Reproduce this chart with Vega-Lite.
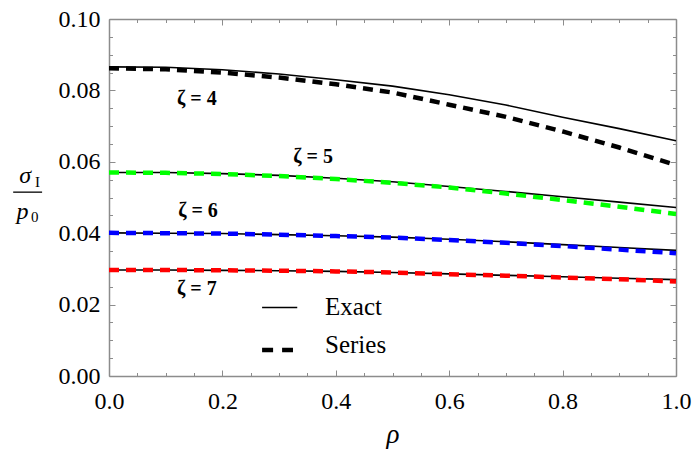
{
  "$schema": "https://vega.github.io/schema/vega-lite/v6.json",
  "width": 567,
  "height": 357,
  "autosize": {"type": "none"},
  "padding": {"left": 109, "top": 19, "right": 16, "bottom": 79},
  "background": "white",
  "config": {"view": {"stroke": null}, "font": "Liberation Serif"},
  "datasets": {
    "curves": [
      {"rho": 0.0, "v": 0.0866, "zeta": "4", "type": "Exact"},
      {"rho": 0.1, "v": 0.0865, "zeta": "4", "type": "Exact"},
      {"rho": 0.2, "v": 0.0858, "zeta": "4", "type": "Exact"},
      {"rho": 0.3, "v": 0.0846, "zeta": "4", "type": "Exact"},
      {"rho": 0.4, "v": 0.0830, "zeta": "4", "type": "Exact"},
      {"rho": 0.5, "v": 0.0812, "zeta": "4", "type": "Exact"},
      {"rho": 0.6, "v": 0.0788, "zeta": "4", "type": "Exact"},
      {"rho": 0.7, "v": 0.0759, "zeta": "4", "type": "Exact"},
      {"rho": 0.8, "v": 0.0725, "zeta": "4", "type": "Exact"},
      {"rho": 0.9, "v": 0.0693, "zeta": "4", "type": "Exact"},
      {"rho": 1.0, "v": 0.0659, "zeta": "4", "type": "Exact"},
      {"rho": 0.0, "v": 0.0862, "zeta": "4", "type": "Series"},
      {"rho": 0.1, "v": 0.0859, "zeta": "4", "type": "Series"},
      {"rho": 0.2, "v": 0.0850, "zeta": "4", "type": "Series"},
      {"rho": 0.3, "v": 0.0836, "zeta": "4", "type": "Series"},
      {"rho": 0.4, "v": 0.0817, "zeta": "4", "type": "Series"},
      {"rho": 0.5, "v": 0.0794, "zeta": "4", "type": "Series"},
      {"rho": 0.6, "v": 0.0760, "zeta": "4", "type": "Series"},
      {"rho": 0.7, "v": 0.0726, "zeta": "4", "type": "Series"},
      {"rho": 0.8, "v": 0.0685, "zeta": "4", "type": "Series"},
      {"rho": 0.9, "v": 0.0640, "zeta": "4", "type": "Series"},
      {"rho": 1.0, "v": 0.0591, "zeta": "4", "type": "Series"},
      {"rho": 0.0, "v": 0.0570, "zeta": "5", "type": "Exact"},
      {"rho": 0.1, "v": 0.0570, "zeta": "5", "type": "Exact"},
      {"rho": 0.2, "v": 0.0567, "zeta": "5", "type": "Exact"},
      {"rho": 0.3, "v": 0.0562, "zeta": "5", "type": "Exact"},
      {"rho": 0.4, "v": 0.0554, "zeta": "5", "type": "Exact"},
      {"rho": 0.5, "v": 0.0544, "zeta": "5", "type": "Exact"},
      {"rho": 0.6, "v": 0.0531, "zeta": "5", "type": "Exact"},
      {"rho": 0.7, "v": 0.0517, "zeta": "5", "type": "Exact"},
      {"rho": 0.8, "v": 0.0502, "zeta": "5", "type": "Exact"},
      {"rho": 0.9, "v": 0.0487, "zeta": "5", "type": "Exact"},
      {"rho": 1.0, "v": 0.0472, "zeta": "5", "type": "Exact"},
      {"rho": 0.0, "v": 0.0570, "zeta": "5", "type": "Series"},
      {"rho": 0.1, "v": 0.0569, "zeta": "5", "type": "Series"},
      {"rho": 0.2, "v": 0.0566, "zeta": "5", "type": "Series"},
      {"rho": 0.3, "v": 0.0560, "zeta": "5", "type": "Series"},
      {"rho": 0.4, "v": 0.0552, "zeta": "5", "type": "Series"},
      {"rho": 0.5, "v": 0.0541, "zeta": "5", "type": "Series"},
      {"rho": 0.6, "v": 0.0528, "zeta": "5", "type": "Series"},
      {"rho": 0.7, "v": 0.0511, "zeta": "5", "type": "Series"},
      {"rho": 0.8, "v": 0.0493, "zeta": "5", "type": "Series"},
      {"rho": 0.9, "v": 0.0474, "zeta": "5", "type": "Series"},
      {"rho": 1.0, "v": 0.0454, "zeta": "5", "type": "Series"},
      {"rho": 0.0, "v": 0.0401, "zeta": "6", "type": "Exact"},
      {"rho": 0.1, "v": 0.0400, "zeta": "6", "type": "Exact"},
      {"rho": 0.2, "v": 0.0399, "zeta": "6", "type": "Exact"},
      {"rho": 0.3, "v": 0.0396, "zeta": "6", "type": "Exact"},
      {"rho": 0.4, "v": 0.0393, "zeta": "6", "type": "Exact"},
      {"rho": 0.5, "v": 0.0389, "zeta": "6", "type": "Exact"},
      {"rho": 0.6, "v": 0.0383, "zeta": "6", "type": "Exact"},
      {"rho": 0.7, "v": 0.0376, "zeta": "6", "type": "Exact"},
      {"rho": 0.8, "v": 0.0368, "zeta": "6", "type": "Exact"},
      {"rho": 0.9, "v": 0.0360, "zeta": "6", "type": "Exact"},
      {"rho": 1.0, "v": 0.0352, "zeta": "6", "type": "Exact"},
      {"rho": 0.0, "v": 0.0401, "zeta": "6", "type": "Series"},
      {"rho": 0.1, "v": 0.0400, "zeta": "6", "type": "Series"},
      {"rho": 0.2, "v": 0.0399, "zeta": "6", "type": "Series"},
      {"rho": 0.3, "v": 0.0396, "zeta": "6", "type": "Series"},
      {"rho": 0.4, "v": 0.0392, "zeta": "6", "type": "Series"},
      {"rho": 0.5, "v": 0.0388, "zeta": "6", "type": "Series"},
      {"rho": 0.6, "v": 0.0381, "zeta": "6", "type": "Series"},
      {"rho": 0.7, "v": 0.0373, "zeta": "6", "type": "Series"},
      {"rho": 0.8, "v": 0.0364, "zeta": "6", "type": "Series"},
      {"rho": 0.9, "v": 0.0354, "zeta": "6", "type": "Series"},
      {"rho": 1.0, "v": 0.0344, "zeta": "6", "type": "Series"},
      {"rho": 0.0, "v": 0.0297, "zeta": "7", "type": "Exact"},
      {"rho": 0.1, "v": 0.0297, "zeta": "7", "type": "Exact"},
      {"rho": 0.2, "v": 0.0296, "zeta": "7", "type": "Exact"},
      {"rho": 0.3, "v": 0.0295, "zeta": "7", "type": "Exact"},
      {"rho": 0.4, "v": 0.0293, "zeta": "7", "type": "Exact"},
      {"rho": 0.5, "v": 0.0290, "zeta": "7", "type": "Exact"},
      {"rho": 0.6, "v": 0.0286, "zeta": "7", "type": "Exact"},
      {"rho": 0.7, "v": 0.0282, "zeta": "7", "type": "Exact"},
      {"rho": 0.8, "v": 0.0278, "zeta": "7", "type": "Exact"},
      {"rho": 0.9, "v": 0.0274, "zeta": "7", "type": "Exact"},
      {"rho": 1.0, "v": 0.0270, "zeta": "7", "type": "Exact"},
      {"rho": 0.0, "v": 0.0297, "zeta": "7", "type": "Series"},
      {"rho": 0.1, "v": 0.0297, "zeta": "7", "type": "Series"},
      {"rho": 0.2, "v": 0.0296, "zeta": "7", "type": "Series"},
      {"rho": 0.3, "v": 0.0295, "zeta": "7", "type": "Series"},
      {"rho": 0.4, "v": 0.0293, "zeta": "7", "type": "Series"},
      {"rho": 0.5, "v": 0.0290, "zeta": "7", "type": "Series"},
      {"rho": 0.6, "v": 0.0285, "zeta": "7", "type": "Series"},
      {"rho": 0.7, "v": 0.0281, "zeta": "7", "type": "Series"},
      {"rho": 0.8, "v": 0.0276, "zeta": "7", "type": "Series"},
      {"rho": 0.9, "v": 0.0271, "zeta": "7", "type": "Series"},
      {"rho": 1.0, "v": 0.0265, "zeta": "7", "type": "Series"}
    ],
    "zlabels": [
      {"t": "ζ = 4", "rho": 0.155, "v": 0.0776},
      {"t": "ζ = 5", "rho": 0.360, "v": 0.0613},
      {"t": "ζ = 6", "rho": 0.157, "v": 0.0462},
      {"t": "ζ = 7", "rho": 0.155, "v": 0.0244}
    ],
    "legendText": [
      {"t": "Exact", "rho": 0.381, "v": 0.0194},
      {"t": "Series", "rho": 0.381, "v": 0.0087}
    ],
    "legendLines": [
      {"k": "Exact", "x1": 0.270, "x2": 0.332, "v": 0.0192},
      {"k": "Series", "x1": 0.270, "x2": 0.3245, "v": 0.0073}
    ],
    "fracBig": [
      {"t": "σ", "rho": -0.148, "v": 0.0541},
      {"t": "p", "rho": -0.1526, "v": 0.0441}
    ],
    "fracSmall": [
      {"t": "I", "rho": -0.1305, "v": 0.0529},
      {"t": "0", "rho": -0.1376, "v": 0.0431}
    ],
    "fracBar": [
      {"x1": -0.169, "x2": -0.118, "v": 0.0515}
    ]
  },
  "resolve": {"axis": {"x": "independent", "y": "independent"}},
  "layer": [
    {
      "data": {"name": "curves"},
      "transform": [{"filter": "datum.type === 'Exact'"}],
      "mark": {"type": "line", "color": "black", "strokeWidth": 1.6},
      "encoding": {
        "x": {
          "field": "rho", "type": "quantitative",
          "scale": {"domain": [0, 1], "nice": false, "zero": false},
          "axis": {
            "orient": "bottom",
            "values": [0, 0.05, 0.1, 0.15, 0.2, 0.25, 0.3, 0.35, 0.4, 0.45, 0.5, 0.55, 0.6, 0.65, 0.7, 0.75, 0.8, 0.85, 0.9, 0.95, 1],
            "labelExpr": "abs(datum.value*5 - round(datum.value*5)) < 0.000001 ? format(datum.value, '.1f') : ''",
            "tickSize": {"condition": {"test": "abs(datum.value*5 - round(datum.value*5)) < 0.000001", "value": -6}, "value": -3.5},
            "labelPadding": 19,
            "labelFont": "Liberation Serif", "labelFontSize": 24, "labelColor": "black",
            "labelFlush": false, "labelOverlap": false,
            "title": "ρ", "titleFont": "Liberation Serif", "titleFontStyle": "italic", "titleFontWeight": "normal",
            "titleFontSize": 27, "titleColor": "black", "titlePadding": 6,
            "grid": false, "domainColor": "#8c8c8c", "domainWidth": 1.5, "tickColor": "#8c8c8c", "tickWidth": 1
          }
        },
        "y": {
          "field": "v", "type": "quantitative",
          "scale": {"domain": [0, 0.1], "nice": false, "zero": false},
          "axis": {
            "orient": "left",
            "values": [0, 0.005, 0.01, 0.015, 0.02, 0.025, 0.03, 0.035, 0.04, 0.045, 0.05, 0.055, 0.06, 0.065, 0.07, 0.075, 0.08, 0.085, 0.09, 0.095, 0.1],
            "labelExpr": "abs(datum.value*50 - round(datum.value*50)) < 0.000001 ? format(datum.value, '.2f') : ''",
            "tickSize": {"condition": {"test": "abs(datum.value*50 - round(datum.value*50)) < 0.000001", "value": -6}, "value": -3.5},
            "labelPadding": 15,
            "labelFont": "Liberation Serif", "labelFontSize": 24, "labelColor": "black",
            "labelFlush": false, "labelOverlap": false,
            "title": null,
            "grid": false, "domainColor": "#8c8c8c", "domainWidth": 1.5, "tickColor": "#8c8c8c", "tickWidth": 1
          }
        },
        "detail": {"field": "zeta"}
      }
    },
    {
      "data": {"name": "curves"},
      "transform": [{"filter": "datum.type === 'Series'"}],
      "mark": {"type": "line", "strokeWidth": 4.5, "strokeDash": [10, 7]},
      "encoding": {
        "x": {
          "field": "rho", "type": "quantitative",
          "scale": {"domain": [0, 1], "nice": false, "zero": false},
          "axis": {
            "orient": "top",
            "values": [0, 0.05, 0.1, 0.15, 0.2, 0.25, 0.3, 0.35, 0.4, 0.45, 0.5, 0.55, 0.6, 0.65, 0.7, 0.75, 0.8, 0.85, 0.9, 0.95, 1],
            "labels": false,
            "tickSize": {"condition": {"test": "abs(datum.value*5 - round(datum.value*5)) < 0.000001", "value": -6}, "value": -3.5},
            "title": null,
            "grid": false, "domainColor": "#8c8c8c", "domainWidth": 1.5, "tickColor": "#8c8c8c", "tickWidth": 1
          }
        },
        "y": {
          "field": "v", "type": "quantitative",
          "scale": {"domain": [0, 0.1], "nice": false, "zero": false},
          "axis": {
            "orient": "right",
            "values": [0, 0.005, 0.01, 0.015, 0.02, 0.025, 0.03, 0.035, 0.04, 0.045, 0.05, 0.055, 0.06, 0.065, 0.07, 0.075, 0.08, 0.085, 0.09, 0.095, 0.1],
            "labels": false,
            "tickSize": {"condition": {"test": "abs(datum.value*50 - round(datum.value*50)) < 0.000001", "value": -6}, "value": -3.5},
            "title": null,
            "grid": false, "domainColor": "#8c8c8c", "domainWidth": 1.5, "tickColor": "#8c8c8c", "tickWidth": 1
          }
        },
        "color": {
          "field": "zeta", "type": "nominal",
          "scale": {"domain": ["4", "5", "6", "7"], "range": ["#000000", "#00ff00", "#0000ff", "#ff0000"]},
          "legend": null
        }
      }
    },
    {
      "data": {"name": "zlabels"},
      "mark": {"type": "text", "font": "Liberation Serif", "fontSize": 20, "fontWeight": "bold", "align": "center", "baseline": "middle", "color": "black"},
      "encoding": {
        "x": {"field": "rho", "type": "quantitative", "scale": {"domain": [0, 1], "nice": false, "zero": false}, "axis": null},
        "y": {"field": "v", "type": "quantitative", "scale": {"domain": [0, 0.1], "nice": false, "zero": false}, "axis": null},
        "text": {"field": "t"}
      }
    },
    {
      "data": {"name": "legendText"},
      "mark": {"type": "text", "font": "Liberation Serif", "fontSize": 25, "align": "left", "baseline": "middle", "color": "black"},
      "encoding": {
        "x": {"field": "rho", "type": "quantitative", "scale": {"domain": [0, 1], "nice": false, "zero": false}, "axis": null},
        "y": {"field": "v", "type": "quantitative", "scale": {"domain": [0, 0.1], "nice": false, "zero": false}, "axis": null},
        "text": {"field": "t"}
      }
    },
    {
      "data": {"name": "legendLines"},
      "transform": [{"filter": "datum.k === 'Exact'"}],
      "mark": {"type": "rule", "color": "black", "strokeWidth": 1.6},
      "encoding": {
        "x": {"field": "x1", "type": "quantitative", "scale": {"domain": [0, 1], "nice": false, "zero": false}, "axis": null},
        "x2": {"field": "x2"},
        "y": {"field": "v", "type": "quantitative", "scale": {"domain": [0, 0.1], "nice": false, "zero": false}, "axis": null}
      }
    },
    {
      "data": {"name": "legendLines"},
      "transform": [{"filter": "datum.k === 'Series'"}],
      "mark": {"type": "rule", "color": "black", "strokeWidth": 4.5, "strokeDash": [11, 9]},
      "encoding": {
        "x": {"field": "x1", "type": "quantitative", "scale": {"domain": [0, 1], "nice": false, "zero": false}, "axis": null},
        "x2": {"field": "x2"},
        "y": {"field": "v", "type": "quantitative", "scale": {"domain": [0, 0.1], "nice": false, "zero": false}, "axis": null}
      }
    },
    {
      "data": {"name": "fracBig"},
      "mark": {"type": "text", "font": "Liberation Serif", "fontSize": 24, "fontStyle": "italic", "align": "center", "baseline": "alphabetic", "color": "black"},
      "encoding": {
        "x": {"field": "rho", "type": "quantitative", "scale": {"domain": [0, 1], "nice": false, "zero": false}, "axis": null},
        "y": {"field": "v", "type": "quantitative", "scale": {"domain": [0, 0.1], "nice": false, "zero": false}, "axis": null},
        "text": {"field": "t"}
      }
    },
    {
      "data": {"name": "fracSmall"},
      "mark": {"type": "text", "font": "Liberation Serif", "fontSize": 15, "align": "left", "baseline": "alphabetic", "color": "black"},
      "encoding": {
        "x": {"field": "rho", "type": "quantitative", "scale": {"domain": [0, 1], "nice": false, "zero": false}, "axis": null},
        "y": {"field": "v", "type": "quantitative", "scale": {"domain": [0, 0.1], "nice": false, "zero": false}, "axis": null},
        "text": {"field": "t"}
      }
    },
    {
      "data": {"name": "fracBar"},
      "mark": {"type": "rule", "color": "black", "strokeWidth": 1.3},
      "encoding": {
        "x": {"field": "x1", "type": "quantitative", "scale": {"domain": [0, 1], "nice": false, "zero": false}, "axis": null},
        "x2": {"field": "x2"},
        "y": {"field": "v", "type": "quantitative", "scale": {"domain": [0, 0.1], "nice": false, "zero": false}, "axis": null}
      }
    }
  ]
}
